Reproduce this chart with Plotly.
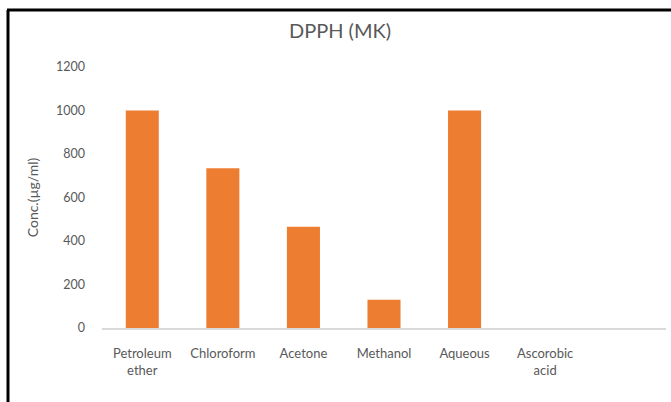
import plotly.graph_objects as go

# DPPH scavenging concentrations for each extract
categories = ["Petroleum<br>ether", "Chloroform", "Acetone", "Methanol", "Aqueous", "Ascorobic<br>acid"]
conc_values = [1000, 735, 465, 130, 1000, 0]
y_ticks = [0, 200, 400, 600, 800, 1000, 1200]

W, H = 671, 402
L, R, T, B = 102, 5, 67, 74
pw, ph = W - L - R, H - T - B

def px_x(x):
    return (x - L) / pw

def px_y(y):
    return (H - B - y) / ph

FONT = "Lato, 'Open Sans', sans-serif"
GRAY = "#595959"

fig = go.Figure(
    go.Bar(
        x=categories,
        y=conc_values,
        marker=dict(color="#ED7D31", line=dict(width=0)),
    )
)

fig.update_layout(
    width=W,
    height=H,
    margin=dict(l=L, r=R, t=T, b=B),
    paper_bgcolor="white",
    plot_bgcolor="white",
    bargap=0.59,
    showlegend=False,
    font=dict(family=FONT, color=GRAY, size=12),
    title=dict(
        text="DPPH (MK)",
        x=340 / W,
        xanchor="center",
        y=1 - 31 / H,
        yanchor="middle",
        font=dict(family=FONT, size=20, color=GRAY),
    ),
    xaxis=dict(
        type="category",
        range=[-0.5, 6.5],
        showline=True,
        linecolor="#D9D9D9",
        linewidth=1.5,
        ticks="",
        showgrid=False,
        tickfont=dict(size=13, color=GRAY),
        ticklabelstandoff=13,
    ),
    yaxis=dict(
        range=[0, 1200],
        tickvals=y_ticks,
        showgrid=False,
        zeroline=False,
        showline=False,
        ticks="",
        tickfont=dict(size=12.5, color=GRAY),
        ticklabelstandoff=16,
        title=dict(text="Conc.(µg/ml)", font=dict(size=14, color=GRAY), standoff=14),
    ),
    shapes=[
        dict(type="line", xref="paper", yref="paper",
             x0=px_x(7), x1=px_x(W + 2), y0=px_y(10), y1=px_y(10),
             line=dict(color="black", width=3)),
        dict(type="line", xref="paper", yref="paper",
             x0=px_x(8), x1=px_x(8), y0=px_y(10), y1=px_y(H + 2),
             line=dict(color="black", width=3)),
    ],
)

fig.write_html("out.html")
